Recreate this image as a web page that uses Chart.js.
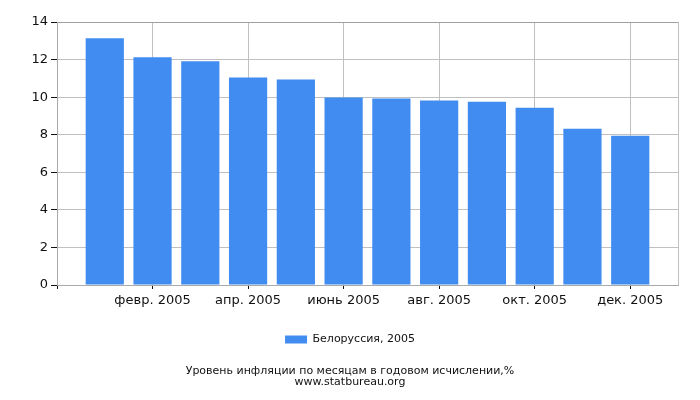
<!DOCTYPE html>
<html>
<head>
<meta charset="utf-8">
<script src="https://cdn.jsdelivr.net/npm/chart.js@4"></script>
<style>
  html, body { margin: 0; padding: 0; background: #fff; }
  #wrap { width: 700px; height: 400px; }
</style>
</head>
<body>
<div id="wrap"><canvas id="myChart" width="700" height="400"></canvas></div>
<script>
// месяцы 2005 года; пустые слоты по краям оси, как в оригинале
var months = ['', 'янв. 2005', 'февр. 2005', 'март 2005', 'апр. 2005', 'май 2005', 'июнь 2005',
              'июль 2005', 'авг. 2005', 'сент. 2005', 'окт. 2005', 'нояб. 2005', 'дек. 2005', ''];
var inflation = [null, 13.14, 12.12, 11.91, 11.05, 10.94, 9.98, 9.93, 9.82, 9.76, 9.44, 8.32, 7.94, null];
var yTicks = [0, 2, 4, 6, 8, 10, 12, 14];
var seriesLabel = 'Белоруссия, 2005';
var titleLines = ['Уровень инфляции по месяцам в годовом исчислении,%', 'www.statbureau.org'];

Chart.defaults.font.family = '"DejaVu Sans", sans-serif';
Chart.defaults.color = '#111';

function shown(i) {
    return i > 0 && i < 13 && i % 2 === 0;
}

var ctx = document.getElementById('myChart').getContext('2d');
var myChart = new Chart(ctx, {
    type: 'bar',
    data: {
        labels: months,
        datasets: [{
            label: seriesLabel,
            data: inflation,
            backgroundColor: '#418cf0',
            borderWidth: 0,
            categoryPercentage: 1,
            barPercentage: 0.8
        }]
    },
    options: {
        responsive: false,
        animation: false,
        layout: { padding: { left: 0, right: 0, top: 22, bottom: 2 } },
        plugins: {
            legend: {
                position: 'bottom',
                labels: { boxWidth: 22, boxHeight: 8, padding: 10, font: { size: 11 }, color: '#111' }
            },
            title: {
                display: true,
                position: 'bottom',
                text: titleLines,
                font: { size: 11, weight: 'normal', lineHeight: 1 },
                color: '#111',
                padding: { top: 11, bottom: 10 }
            },
            tooltip: { enabled: false }
        },
        scales: {
            x: {
                offset: false,
                afterFit: function (s) { s.height = 39; },
                border: { color: '#aaa' },
                grid: {
                    offset: false,
                    color: function (c) {
                        var i = c.index;
                        return (shown(i) || i === 13) ? '#c0c0c0' : 'rgba(0,0,0,0)';
                    },
                    tickColor: function (c) {
                        var i = c.index;
                        return (shown(i) || i === 0) ? '#111' : 'rgba(0,0,0,0)';
                    },
                    tickLength: 4
                },
                ticks: {
                    autoSkip: false,
                    maxRotation: 0,
                    padding: 4,
                    font: { size: 13 },
                    callback: function (v, i) { return shown(i) ? months[i] : ''; }
                }
            },
            y: {
                min: yTicks[0],
                max: yTicks[yTicks.length - 1],
                afterFit: function (s) { s.width = 57; },
                afterBuildTicks: function (s) { s.ticks = yTicks.map(function (v) { return { value: v }; }); },
                border: { color: '#aaa' },
                grid: {
                    color: function (c) { return c.tick.value === 14 ? '#a0a0a0' : '#c0c0c0'; },
                    tickColor: '#111',
                    tickLength: 6
                },
                ticks: { padding: 3, font: { size: 13 } }
            },
            // пустая правая ось: только оставляет поле справа, чтобы легенда и подпись были по центру холста
            yRight: {
                position: 'right',
                afterFit: function (s) { s.width = 22; },
                grid: { display: false, drawTicks: false },
                border: { display: false },
                ticks: { display: false }
            }
        }
    }
});
</script>
</body>
</html>
